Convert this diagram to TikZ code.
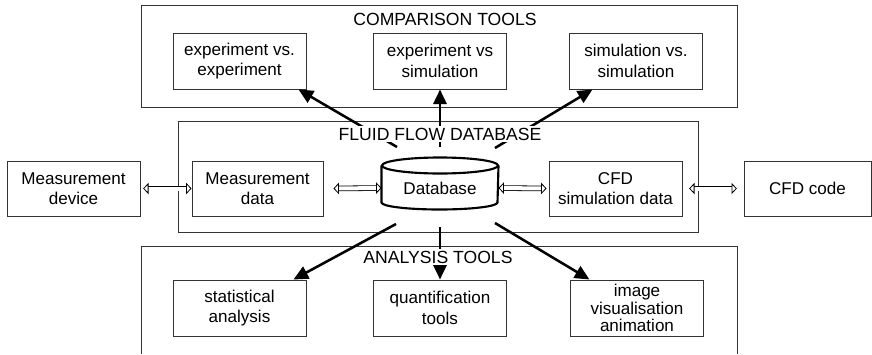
\documentclass[tikz,border=0pt]{standalone}
\usepackage{fontspec}
\setmainfont{Liberation Sans}
\usetikzlibrary{arrows.meta,calc}

\tikzset{every picture/.style={line width=0.75pt}}
\tikzset{
  toolbox/.style={draw=black!80, minimum width=99.75pt, minimum height=42pt, inner sep=1pt, align=center, font=\fontsize{12.8}{15.2}\selectfont},
  groupbox/.style={draw=black!80, inner sep=0pt},
  grouptitle/.style={fill=white, inner sep=1.5pt, font=\fontsize{13.2}{15}\selectfont},
  dataflow/.style={-{Triangle[length=11pt,width=10pt]}, line width=1.9pt},
  dblarrow/.style={{Triangle[open,length=4pt,width=8.5pt,line width=0.6pt]}-{Triangle[open,length=4pt,width=8.5pt,line width=0.6pt]}, double, double distance=3pt, line width=0.6pt}
}

\begin{document}
\begin{tikzpicture}[x=0.75pt,y=0.75pt,yscale=-1,xscale=1]
\useasboundingbox (0,0) rectangle (872,354);

%Shape: Rectangle [comparison tools]
\node[groupbox, minimum width=447pt, minimum height=76.5pt] (cmp) at (439,56) {};
%Shape: Rectangle [fluid flow database]
\node[groupbox, minimum width=390pt, minimum height=83.25pt] (ffd) at (438,176.5) {};
%Shape: open Rectangle [analysis tools]
\draw[draw=black!80] (141,354) |- (737,246) -- (737,354);

% Text Node
\node[toolbox] (ee) at (239.5,61) {experiment vs.\\experiment};
% Text Node
\node[toolbox] (es) at (440,61) {experiment vs\\simulation};
% Text Node
\node[toolbox] (ss) at (636,61) {simulation vs.\\simulation};

% Text Node
\node[toolbox, minimum height=41.25pt] (mdev) at (73.5,188.5) {Measurement\\device};
% Text Node
\node[toolbox, minimum width=98.25pt, minimum height=41.25pt] (mdat) at (257.5,188.5) {Measurement\\data};
% Text Node
\node[toolbox, minimum height=41.25pt] (cfd) at (615.5,188.5) {CFD\\simulation data};
% Text Node
\node[toolbox, minimum width=95.25pt, minimum height=41.25pt] (code) at (807.5,188.5) {CFD code};

% Text Node
\node[toolbox] (sa) at (239.5,308) {statistical\\analysis};
% Text Node
\node[toolbox] (qt) at (440,308) {quantification\\tools};
% Text Node
\node[toolbox, font=\fontsize{12.8}{13}\selectfont] (iv) at (637,308) {image\\visualisation\\animation};

%Shape: Cylinder [database]
\node[toolbox, draw=none, minimum width=87pt, minimum height=33pt] (db) at (440,188) {Database};
\draw[line width=1.6pt] (db.north west) -- ++(0,37) arc[start angle=180, end angle=0, x radius=58, y radius=7] -- (db.north east);
\draw[line width=1.6pt] (db.north) ellipse [x radius=58, y radius=8];

\coordinate (d1) at ($(db)+(-43,-41)$);
\coordinate (d2) at ($(db)+(0,-41)$);
\coordinate (d3) at ($(db)+(55,-40)$);
\coordinate (d4) at ($(db)+(-44,36)$);
\coordinate (d5) at ($(db)+(0,39)$);
\coordinate (d6) at ($(db)+(55,35)$);

%Straight Lines [to comparison tools]
\draw[dataflow] (d1) -- ([xshift=-6pt]ee.south east);
\draw[dataflow] (d2) -- (es.south);
\draw[dataflow] (d3) -- ([xshift=17.6pt]ss.south west);
%Straight Lines [to analysis tools]
\draw[dataflow] (d4) -- ([xshift=-9.75pt]sa.north east);
\draw[dataflow] (d5) -- (qt.north);
\draw[dataflow] (d6) -- ([xshift=14.6pt]iv.north west);

%Double Arrows
\draw[dblarrow] ([xshift=2pt]mdev.east) -- (mdat.west);
\draw[dblarrow] ([xshift=7.5pt]mdat.east) -- (db.west);
\draw[dblarrow] (db.east) -- ([xshift=-1.5pt]cfd.west);
\draw[dblarrow] ([xshift=5pt]cfd.east) -- ([xshift=-5pt]code.west);

% Text Node
\node[grouptitle] (cmptitle) at (445,19) {COMPARISON TOOLS};
% Text Node
\node[grouptitle] (ffdtitle) at (440,134) {FLUID FLOW DATABASE};
% Text Node
\node[grouptitle] (anatitle) at (438,257) {ANALYSIS TOOLS};

\end{tikzpicture}
\end{document}
